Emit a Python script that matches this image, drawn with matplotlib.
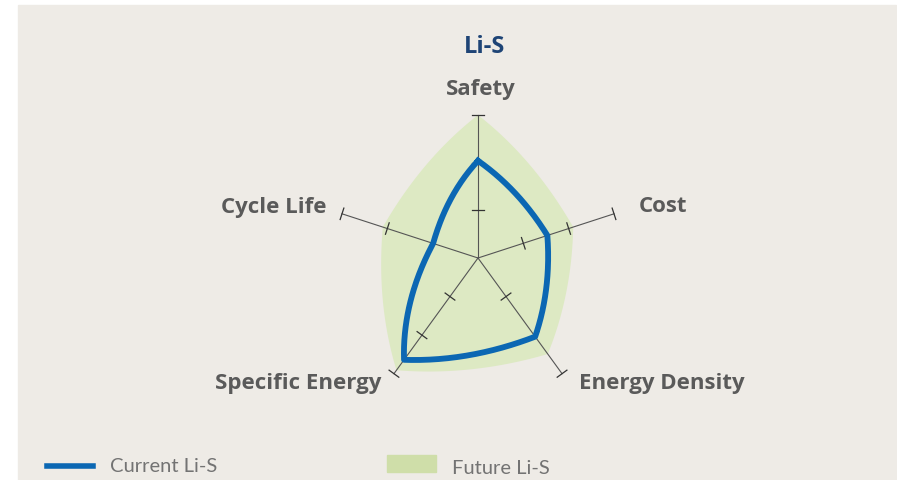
import matplotlib.pyplot as plt
import numpy as np
from matplotlib.patches import Rectangle
from matplotlib.lines import Line2D

categories = ['Safety', 'Cost', 'Energy Density', 'Specific Energy', 'Cycle Life']
current = [0.68, 0.51, 0.68, 0.88, 0.33]
future = [1.0, 0.70, 0.83, 0.97, 0.70]
tick_levels = [1 / 3, 2 / 3, 1.0]
series_names = ['Current Li-S', 'Future Li-S']

W, H = 897, 480
cx, cy, R = 478, 258, 143   # hub position and spoke length (px)

BLUE = '#0b67b3'
GREEN = '#dde9c3'
GREEN_KEY = '#cfdea9'
LABEL = '#5a5a5a'

angles = np.deg2rad(90 - 72 * np.arange(len(categories)))


def outline(values, bulge, n=60):
    # each edge is a blend of the straight chord and the polar spiral between spokes
    xs, ys = [], []
    k = len(values)
    for i in range(k):
        j = (i + 1) % k
        t = np.linspace(0, 1, n)
        a0, a1 = angles[i], angles[i] - np.deg2rad(72)
        r = values[i] + t * (values[j] - values[i])
        th = a0 + t * (a1 - a0)
        sx, sy = r * np.cos(th), r * np.sin(th)
        p0 = np.array([values[i] * np.cos(a0), values[i] * np.sin(a0)])
        p1 = np.array([values[j] * np.cos(a1), values[j] * np.sin(a1)])
        lx = p0[0] + t * (p1[0] - p0[0])
        ly = p0[1] + t * (p1[1] - p0[1])
        xs.append(lx + bulge * (sx - lx))
        ys.append(ly + bulge * (sy - ly))
    return np.concatenate(xs), np.concatenate(ys)


fig = plt.figure(figsize=(W / 100, H / 100), dpi=100, facecolor='white')
fig.add_artist(Rectangle((18 / W, 0), (896 - 18) / W, (H - 5) / H,
                         transform=fig.transFigure, color='#eeebe6', zorder=-10))

ax = fig.add_axes([0, 0, 1, 1])
ax.set_xlim(-cx / R, (W - cx) / R)
ax.set_ylim(-(H - cy) / R, cy / R)
ax.set_facecolor('none')
ax.axis('off')

fx, fy = outline(future, 0.28)
ax.fill(fx, fy, color=GREEN, lw=0, zorder=1)

# spokes with small cross ticks
half = 6 / R
for a in angles:
    ax.plot([0, np.cos(a)], [0, np.sin(a)], color='#555555', lw=0.8, zorder=2)
    for lv in tick_levels:
        px, py = lv * np.cos(a), lv * np.sin(a)
        nx, ny = -np.sin(a), np.cos(a)
        ax.plot([px - half * nx, px + half * nx], [py - half * ny, py + half * ny],
                color='#333333', lw=0.9, zorder=2)

bx, by = outline(current, 0.3)
bx = np.append(bx, bx[0])
by = np.append(by, by[0])
ax.plot(bx, by, color=BLUE, lw=4.2, solid_joinstyle='round', zorder=3)

font = 'Open Sans'
fig.text(484 / W, 1 - 47 / H, 'Li-S', ha='center', va='center', fontsize=17,
         fontweight='bold', color='#1e4476', family=font)

label_pos = {
    'Safety': (481, 89, 'center'),
    'Cost': (639, 207, 'left'),
    'Energy Density': (579, 384, 'left'),
    'Specific Energy': (381, 384, 'right'),
    'Cycle Life': (326, 207, 'right'),
}
for name in categories:
    x, y, ha = label_pos[name]
    fig.text(x / W, 1 - y / H, name, ha=ha, va='center', fontsize=16,
             fontweight='bold', color=LABEL, family=font)

# legend
fig.add_artist(Line2D([47 / W, 93 / W], [1 - 466 / H] * 2, color=BLUE, lw=4,
                      transform=fig.transFigure))
fig.text(110 / W, 1 - 466 / H, series_names[0], ha='left', va='center',
         fontsize=14.5, color='#737373', family='Lato')
fig.add_artist(Rectangle((387 / W, 1 - 472 / H), 49 / W, 17 / H,
                         transform=fig.transFigure, color=GREEN_KEY))
fig.text(452 / W, 1 - 469 / H, series_names[1], ha='left', va='center',
         fontsize=14.5, color='#737373', family='Lato')

fig.savefig('out.png', dpi=100, facecolor='white')
